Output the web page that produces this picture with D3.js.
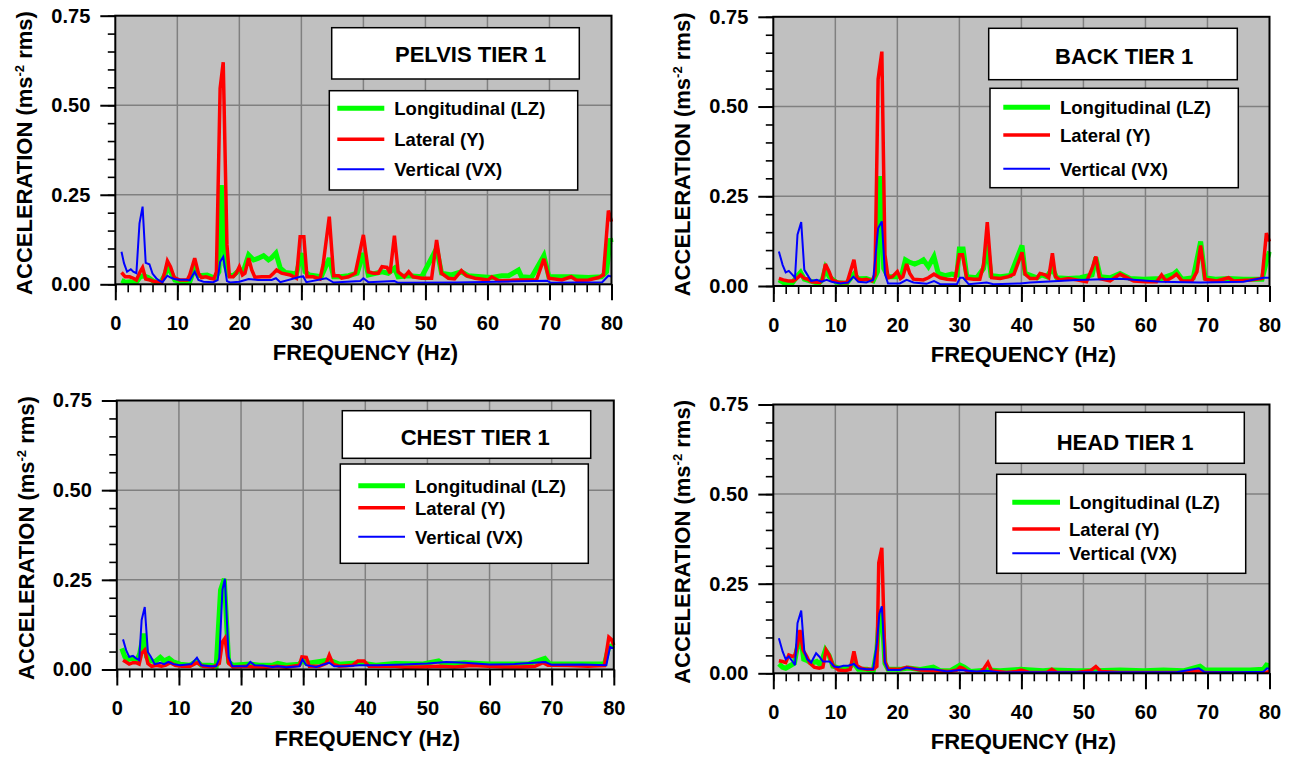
<!DOCTYPE html>
<html><head><meta charset="utf-8">
<script src="https://cdn.jsdelivr.net/npm/d3@7"></script>
<style>body{margin:0;background:#fff}svg{display:block}text{font-family:Arial,"Liberation Sans",sans-serif;font-weight:bold;fill:#000}</style>
</head><body><svg id="c" width="1292" height="757"></svg>
<script>
// ---------------- DATA ----------------
const seriesNames = ["Longitudinal (LZ)", "Lateral (Y)", "Vertical (VX)"];
const panelTitles = ["PELVIS TIER 1", "BACK TIER 1", "CHEST TIER 1", "HEAD TIER 1"];
const xTicks = [0, 10, 20, 30, 40, 50, 60, 70, 80];
const yTicks = [0, 0.25, 0.5, 0.75];

const pelvisLZ = [[1,0.011],[1.6,0.006],[2.4,0.007],[3.3,0.003],[4,0.021],[4.5,0.024],[5.3,0.019],[6.1,0.009],[7.2,0.003],[8,0.026],[8.4,0.049],[8.9,0.035],[9.6,0.012],[11,0.006],[12,0.007],[12.8,0.045],[13.4,0.024],[14.8,0.026],[16.1,0.017],[16.7,0.035],[17.1,0.277],[17.7,0.054],[18.2,0.026],[19,0.024],[20,0.04],[20.7,0.04],[21.5,0.082],[22.3,0.068],[23.1,0.073],[23.9,0.08],[24.7,0.068],[25.2,0.074],[25.9,0.087],[26.6,0.045],[27.4,0.033],[28.4,0.031],[29.2,0.028],[30,0.087],[30.6,0.035],[31.3,0.026],[33.2,0.021],[34.5,0.073],[35.2,0.021],[36.2,0.021],[37.6,0.024],[39,0.031],[40,0.087],[40.8,0.026],[43,0.035],[44,0.031],[45,0.045],[45.6,0.021],[47.3,0.024],[49.4,0.021],[51.8,0.1],[52.6,0.031],[54.2,0.026],[55.8,0.035],[56.9,0.024],[59,0.021],[60.7,0.019],[62.3,0.024],[63.4,0.024],[65,0.04],[65.5,0.021],[67.1,0.019],[69.1,0.08],[69.9,0.021],[72,0.021],[73.6,0.021],[76.3,0.019],[78.4,0.021],[79.2,0.035],[79.8,0.128],[80,0.117]];
const pelvisY = [[1,0.033],[1.6,0.021],[2.3,0.021],[2.9,0.017],[3.4,0.012],[4,0.035],[4.4,0.047],[4.9,0.015],[5.6,0.012],[6.4,0.007],[7.5,0.006],[8,0.035],[8.4,0.065],[8.9,0.049],[9.5,0.019],[10.4,0.012],[11.6,0.012],[12,0.026],[12.8,0.073],[13.4,0.031],[13.9,0.019],[14.6,0.021],[15.3,0.017],[15.9,0.015],[16.3,0.035],[16.9,0.547],[17.4,0.62],[18,0.11],[18.4,0.021],[19,0.021],[19.5,0.031],[20,0.049],[20.5,0.026],[20.9,0.031],[21.5,0.073],[22,0.04],[22.5,0.02],[23.6,0.021],[24.9,0.021],[25.5,0.031],[26,0.04],[26.8,0.031],[28.2,0.026],[29.2,0.017],[29.8,0.133],[30.4,0.133],[30.9,0.021],[31.9,0.021],[33,0.015],[33.5,0.054],[34.5,0.189],[35.2,0.024],[36,0.024],[36.5,0.017],[37.6,0.021],[38.7,0.031],[40,0.138],[40.8,0.035],[41.6,0.031],[42.4,0.031],[43,0.049],[43.8,0.047],[44.3,0.031],[45,0.136],[45.6,0.035],[46.6,0.021],[47.3,0.035],[48,0.021],[49.4,0.017],[51,0.017],[51.8,0.124],[52.6,0.031],[53.7,0.017],[54.7,0.015],[55.8,0.038],[56.6,0.024],[58,0.017],[60.1,0.012],[60.7,0.021],[61.8,0.01],[63.9,0.011],[65,0.012],[67.1,0.012],[67.9,0.012],[69.1,0.071],[69.9,0.017],[72,0.012],[73.5,0.021],[74.4,0.011],[76.3,0.012],[77.9,0.019],[78.7,0.026],[79.5,0.206],[80,0.175]];
const pelvisVX = [[1,0.091],[1.4,0.059],[1.9,0.035],[2.5,0.042],[2.9,0.035],[3.4,0.031],[3.9,0.17],[4.4,0.217],[4.9,0.06],[5.5,0.056],[6,0.03],[6.6,0.017],[7.1,0.01],[7.6,0.006],[8,0.015],[8.4,0.024],[8.9,0.019],[9.5,0.015],[10.4,0.013],[11.5,0.013],[12,0.011],[12.8,0.035],[13.4,0.012],[14.2,0.007],[15.8,0.006],[16.5,0.012],[16.9,0.063],[17.4,0.077],[18,0.009],[18.5,0.005],[20,0.007],[21.5,0.015],[23,0.012],[25.2,0.012],[25.9,0.017],[26.6,0.006],[29.8,0.021],[30.3,0.022],[30.8,0.006],[34,0.017],[35.2,0.005],[39.5,0.009],[40,0.017],[40.8,0.006],[45,0.009],[45.6,0.004],[55,0.005],[69.6,0.01],[70.2,0.004],[78.5,0.006],[79.5,0.024],[80,0.022]];

const backLZ = [[0.9,0.017],[1.9,0.007],[3,0.007],[3.8,0.026],[4.4,0.038],[5,0.019],[5.9,0.014],[7.3,0.007],[7.9,0.017],[8.4,0.049],[9,0.026],[10.2,0.01],[11.8,0.007],[13,0.033],[13.7,0.02],[15,0.021],[16.1,0.014],[16.8,0.04],[17.3,0.306],[17.8,0.049],[18.5,0.026],[19.9,0.026],[20.7,0.031],[21.3,0.073],[22,0.066],[22.8,0.061],[23.5,0.066],[24.2,0.073],[25,0.054],[25.9,0.082],[26.6,0.035],[27.7,0.029],[28.8,0.033],[29.6,0.031],[30,0.103],[30.6,0.103],[31.2,0.026],[32.8,0.023],[33.9,0.049],[34.5,0.115],[35.1,0.029],[36.6,0.026],[38.2,0.029],[40.1,0.113],[40.6,0.035],[42.5,0.023],[43.3,0.031],[44.1,0.026],[45,0.049],[45.7,0.023],[47.6,0.021],[49.5,0.023],[51.4,0.031],[52,0.079],[52.7,0.026],[54.3,0.023],[55.9,0.035],[57.5,0.021],[59.7,0.019],[62.6,0.021],[64.5,0.033],[65,0.04],[65.9,0.019],[67.7,0.023],[68.9,0.124],[69.6,0.023],[71.3,0.019],[73.4,0.021],[75.8,0.019],[78.8,0.019],[79.5,0.068],[80,0.096]];
const backY = [[0.9,0.021],[1.6,0.017],[2.4,0.014],[3.2,0.014],[3.8,0.021],[4.4,0.031],[5,0.021],[5.6,0.019],[6.2,0.012],[7.5,0.01],[7.9,0.017],[8.4,0.061],[9,0.04],[9.5,0.017],[10.5,0.01],[11.9,0.01],[13,0.073],[13.5,0.021],[14.2,0.017],[15,0.019],[15.9,0.014],[16.4,0.031],[16.9,0.576],[17.5,0.653],[18,0.087],[18.5,0.023],[19.2,0.026],[20,0.04],[20.5,0.021],[20.9,0.026],[21.5,0.061],[22,0.035],[22.6,0.019],[24.2,0.017],[25,0.023],[25.9,0.033],[26.9,0.023],[28,0.019],[29.3,0.017],[30,0.087],[30.5,0.087],[31.2,0.021],[32.3,0.019],[33.3,0.019],[33.9,0.059],[34.5,0.178],[35.2,0.023],[36.6,0.021],[37.9,0.026],[38.8,0.033],[40.1,0.094],[40.6,0.033],[41.4,0.021],[42.5,0.021],[43,0.035],[43.8,0.031],[44.4,0.023],[45,0.091],[45.5,0.026],[46.2,0.017],[47.6,0.021],[48.9,0.017],[50.5,0.012],[51.4,0.049],[52,0.082],[52.6,0.021],[54.3,0.014],[55.9,0.033],[56.7,0.026],[58.1,0.014],[60.2,0.012],[61.8,0.012],[62.6,0.031],[63.3,0.014],[64.5,0.026],[65,0.033],[65.9,0.014],[67.5,0.014],[68.3,0.04],[68.9,0.113],[69.6,0.019],[71.5,0.014],[73.4,0.023],[74.2,0.014],[76.9,0.017],[78.8,0.021],[79.5,0.147],[80,0.124]];
const backVX = [[0.9,0.096],[1.5,0.059],[2,0.038],[2.5,0.042],[3.1,0.031],[3.5,0.023],[3.9,0.143],[4.5,0.178],[5,0.045],[5.5,0.031],[6.1,0.014],[7,0.017],[7.8,0.012],[8.6,0.017],[9.4,0.012],[10.8,0.007],[12.1,0.01],[12.9,0.026],[13.7,0.012],[15,0.01],[16.1,0.017],[16.9,0.161],[17.5,0.18],[18,0.033],[18.5,0.007],[20.4,0.007],[21.5,0.017],[22.6,0.01],[24.7,0.006],[25.9,0.014],[26.9,0.005],[29.6,0.005],[30.1,0.023],[30.6,0.023],[31.5,0.005],[34.4,0.01],[35.5,0.005],[39.8,0.007],[41.4,0.01],[48.9,0.017],[55.9,0.02],[62.4,0.012],[68.8,0.01],[75.8,0.012],[79,0.023],[80,0.023]];

const chestLZ = [[0.8,0.059],[1.3,0.035],[1.9,0.028],[2.4,0.032],[3.2,0.024],[3.7,0.045],[4.3,0.1],[4.8,0.035],[5.3,0.026],[6.1,0.021],[7,0.034],[7.6,0.024],[8.4,0.031],[9.1,0.021],[10.2,0.015],[11.8,0.012],[12.9,0.024],[13.6,0.012],[15,0.012],[16,0.009],[16.7,0.222],[17.3,0.253],[18,0.021],[18.7,0.012],[21.4,0.015],[23,0.012],[25.1,0.012],[25.9,0.017],[27.3,0.012],[29.4,0.015],[29.9,0.026],[30.5,0.017],[34.2,0.026],[35.8,0.015],[39,0.019],[41.7,0.012],[44.8,0.017],[49.1,0.015],[51.8,0.024],[52.6,0.015],[56,0.019],[59.8,0.015],[63,0.015],[66.2,0.015],[68.9,0.031],[69.7,0.015],[73.2,0.015],[75.8,0.015],[78.5,0.015],[79.2,0.063],[80,0.068]];
const chestY = [[1,0.026],[1.5,0.021],[2,0.015],[2.6,0.019],[3.1,0.019],[3.6,0.015],[4,0.045],[4.5,0.054],[5,0.017],[5.6,0.009],[6.4,0.012],[7.2,0.009],[7.9,0.012],[8.6,0.019],[9.4,0.012],[10.4,0.009],[11.8,0.009],[12.9,0.019],[13.9,0.009],[15.5,0.007],[16.5,0.017],[17,0.077],[17.4,0.087],[18,0.017],[18.7,0.007],[20.9,0.009],[21.9,0.007],[24.1,0.006],[25.7,0.009],[27.3,0.006],[29.4,0.012],[29.8,0.035],[30.5,0.034],[31,0.009],[32.6,0.009],[33.7,0.017],[34.2,0.04],[34.8,0.015],[35.8,0.009],[38,0.012],[38.8,0.024],[39.8,0.024],[40.6,0.009],[42.7,0.009],[44.8,0.009],[46.4,0.006],[49.1,0.007],[51.8,0.009],[54.4,0.007],[57.1,0.011],[59.8,0.009],[62.5,0.007],[65.1,0.007],[67.3,0.009],[68.6,0.019],[69.4,0.012],[72.6,0.011],[75.8,0.009],[78.5,0.011],[79.2,0.09],[79.6,0.084],[80,0.068]];
const chestVX = [[1,0.084],[1.5,0.054],[2,0.035],[2.6,0.038],[3.1,0.031],[3.6,0.026],[4,0.138],[4.5,0.174],[5,0.049],[5.5,0.035],[6.1,0.015],[7,0.019],[7.6,0.015],[8.3,0.021],[9.1,0.015],[10.2,0.012],[12,0.015],[12.9,0.033],[13.6,0.012],[15,0.009],[16,0.009],[16.5,0.031],[17,0.222],[17.4,0.253],[18,0.035],[18.6,0.009],[19.8,0.009],[20.9,0.009],[21.5,0.021],[22.2,0.012],[23.5,0.011],[25.1,0.007],[25.9,0.009],[27.3,0.006],[29.4,0.009],[29.9,0.028],[30.5,0.012],[32.1,0.007],[34.2,0.019],[35,0.009],[36.9,0.009],[39,0.012],[42,0.012],[46,0.014],[50,0.017],[53,0.021],[56,0.019],[60,0.014],[64,0.015],[69,0.021],[70,0.013],[75,0.014],[78.8,0.012],[79.4,0.063],[80,0.059]];

const headLZ = [[0.9,0.026],[1.5,0.017],[2,0.014],[2.7,0.021],[3.4,0.028],[3.9,0.075],[4.4,0.103],[4.9,0.039],[5.5,0.035],[6.2,0.028],[7,0.033],[7.6,0.023],[8.4,0.065],[9,0.049],[9.6,0.02],[10.8,0.014],[12.1,0.014],[13,0.028],[13.7,0.011],[15.1,0.011],[16.1,0.005],[16.7,0.065],[17.1,0.166],[17.5,0.177],[18,0.028],[18.5,0.011],[20.4,0.011],[21.8,0.015],[23.7,0.011],[25.8,0.017],[26.9,0.007],[28.5,0.007],[30.1,0.023],[30.8,0.017],[31.8,0.005],[34.6,0.009],[36.6,0.007],[39.8,0.011],[43.5,0.007],[44.9,0.009],[48.9,0.007],[52.1,0.007],[55.9,0.009],[59.7,0.007],[62.9,0.009],[66.1,0.007],[68.8,0.02],[69.6,0.009],[73.1,0.009],[76.9,0.009],[79,0.011],[79.5,0.023],[80,0.021]];
const headY = [[0.9,0.035],[1.5,0.033],[2,0.03],[2.5,0.051],[3.1,0.047],[3.5,0.051],[3.9,0.079],[4.3,0.121],[4.8,0.065],[5.4,0.047],[5.9,0.028],[6.6,0.017],[7.4,0.014],[8,0.017],[8.5,0.065],[9,0.051],[9.6,0.023],[10.5,0.009],[11.6,0.007],[12.4,0.011],[13,0.061],[13.5,0.021],[14.2,0.014],[15.1,0.011],[16.1,0.011],[16.7,0.019],[17,0.308],[17.5,0.35],[18,0.033],[18.5,0.011],[20.4,0.011],[21.5,0.017],[23.7,0.009],[25.8,0.007],[28.5,0.005],[29.6,0.009],[30.1,0.017],[30.6,0.014],[31.5,0.003],[33.3,0.003],[34,0.014],[34.6,0.03],[35.2,0.007],[37.6,0.002],[39.2,0.005],[40,0.009],[41.4,0.002],[44.1,0.002],[44.9,0.011],[45.7,0.002],[48.9,0.002],[51.1,0.007],[52,0.019],[52.8,0.005],[55.9,0.002],[59.7,0.002],[62.9,0.002],[66.1,0.002],[68.8,0.007],[69.6,0.002],[73.1,0.001],[76.9,0.001],[79.3,0.002],[80,0.005]];
const headVX = [[0.9,0.098],[1.5,0.061],[2,0.039],[2.5,0.047],[3.1,0.033],[3.5,0.023],[3.9,0.14],[4.5,0.175],[5,0.061],[5.5,0.039],[6.1,0.03],[6.9,0.056],[7.4,0.047],[8,0.033],[8.5,0.033],[9.1,0.033],[9.8,0.019],[10.5,0.017],[11.3,0.021],[12.1,0.021],[13,0.026],[13.7,0.014],[15.1,0.011],[16.1,0.011],[16.7,0.084],[17.1,0.166],[17.5,0.187],[18,0.03],[18.5,0.009],[20.4,0.009],[21.5,0.016],[23.1,0.011],[25.8,0.011],[28,0.005],[30.1,0.009],[32.8,0.005],[34.4,0.007],[36.6,0.002],[39.8,0.003],[45,0.003],[55,0.003],[65,0.003],[68.6,0.014],[69.6,0.003],[75,0.003],[79,0.004],[79.6,0.014],[80,0.012]];

// ---------------- LAYOUT / STYLE ----------------
const seriesStyle = [{color:"#00ff00", w:5}, {color:"#ff0000", w:3.5}, {color:"#0000ff", w:2}];
const panels = [
  {title:panelTitles[0], data:[pelvisLZ,pelvisY,pelvisVX], L:115.3, T:15.7, R:611.5, B:284.3,
   tBox:[331.7,27.7,579.3,79], tX:395, tY:61.7,
   lBox:[329.3,90.7,577.7,190], lY:[108.3,139.3,169.3], lX0:337.3, lX1:384.3, lTx:394.3},
  {title:panelTitles[1], data:[backLZ,backY,backVX], L:773.3, T:16.8, R:1269.5, B:286,
   tBox:[988.7,28.3,1237.3,79.7], tX:1055, tY:64,
   lBox:[990,88.3,1238.3,187.7], lY:[107.3,135,168.7], lX0:1003.3, lX1:1050, lTx:1060},
  {title:panelTitles[2], data:[chestLZ,chestY,chestVX], L:116.8, T:400.5, R:613.8, B:669.5,
   tBox:[342.3,410.7,590.7,458.3], tX:400.7, tY:445,
   lBox:[340.3,464,588.3,563.3], lY:[485.7,507.7,536.7], lX0:358.3, lX1:405, lTx:415},
  {title:panelTitles[3], data:[headLZ,headY,headVX], L:773.3, T:404.5, R:1269.5, B:673.3,
   tBox:[995.7,412.3,1244.3,463.3], tX:1056.7, tY:450,
   lBox:[996.7,474.3,1245.7,573.3], lY:[502.3,529,553.3], lX0:1012.3, lX1:1060, lTx:1069}
];

const svg = d3.select("#c");

panels.forEach((p, pi) => {
  const x = d3.scaleLinear().domain([0, 80]).range([p.L, p.R]);
  const y = d3.scaleLinear().domain([0, 0.75]).range([p.B, p.T]);
  const g = svg.append("g");

  // background
  g.append("rect").attr("x", p.L).attr("y", p.T).attr("width", p.R - p.L).attr("height", p.B - p.T).attr("fill", "#c0c0c0");

  // grid
  g.selectAll(".gx").data(xTicks.filter(t => t > 0 && t < 80)).join("line")
    .attr("x1", d => x(d)).attr("x2", d => x(d)).attr("y1", p.T).attr("y2", p.B)
    .attr("stroke", "#808080").attr("stroke-width", 1.5);
  g.selectAll(".gy").data(yTicks.filter(t => t > 0 && t < 0.75)).join("line")
    .attr("y1", d => y(d)).attr("y2", d => y(d)).attr("x1", p.L).attr("x2", p.R)
    .attr("stroke", "#808080").attr("stroke-width", 1.5);

  // clip
  const cid = "clip" + pi;
  svg.append("clipPath").attr("id", cid).append("rect")
    .attr("x", p.L).attr("y", p.T - 2).attr("width", p.R - p.L + 2).attr("height", p.B - p.T + 2);

  const line = d3.line().x(d => x(d[0])).y(d => y(d[1]));
  const lg = g.append("g").attr("clip-path", `url(#${cid})`);
  p.data.forEach((s, si) => {
    lg.append("path").datum(s).attr("d", line).attr("fill", "none")
      .attr("stroke", seriesStyle[si].color).attr("stroke-width", seriesStyle[si].w)
      .attr("stroke-linejoin", "miter").attr("stroke-miterlimit", 3);
  });

  // frame
  g.append("rect").attr("x", p.L).attr("y", p.T).attr("width", p.R - p.L).attr("height", p.B - p.T)
    .attr("fill", "none").attr("stroke", "#000").attr("stroke-width", 2);

  // x axis minor + major
  const xMinor = d3.range(0, 81, 2);
  g.append("g").attr("transform", `translate(0,${p.B})`)
    .call(d3.axisBottom(x).tickValues(xMinor).tickSize(8).tickFormat(""))
    .call(a => { a.select(".domain").remove(); a.selectAll("line").attr("stroke-width", 1.6); });
  const xa = g.append("g").attr("transform", `translate(0,${p.B})`)
    .call(d3.axisBottom(x).tickValues(xTicks).tickSize(16).tickPadding(15.5).tickFormat(d3.format("d")));
  xa.select(".domain").remove();
  xa.selectAll("line").attr("stroke-width", 2);
  xa.selectAll("text").style("font-size", "20px").style("font-family", "Arial, 'Liberation Sans', sans-serif").style("font-weight", "bold").attr("fill", "#000");

  // y axis minor + major
  const yMinor = d3.range(0, 0.751, 0.05);
  g.append("g").attr("transform", `translate(${p.L},0)`)
    .call(d3.axisLeft(y).tickValues(yMinor).tickSize(7.5).tickFormat(""))
    .call(a => { a.select(".domain").remove(); a.selectAll("line").attr("stroke-width", 1.6); });
  const ya = g.append("g").attr("transform", `translate(${p.L},0)`)
    .call(d3.axisLeft(y).tickValues(yTicks).tickSize(15).tickPadding(10).tickFormat(d3.format(".2f")));
  ya.select(".domain").remove();
  ya.selectAll("line").attr("stroke-width", 2);
  ya.selectAll("text").style("font-size", "20px").style("font-family", "Arial, 'Liberation Sans', sans-serif").style("font-weight", "bold").attr("fill", "#000");

  // x label
  g.append("text").attr("x", (p.L + p.R) / 2 + 2).attr("y", p.B + 76).attr("text-anchor", "middle")
    .style("font-size", "22px").text("FREQUENCY (Hz)");

  // y label
  const yl = g.append("text").attr("transform", `translate(${p.L - 83},${(p.T + p.B) / 2 + 3}) rotate(-90)`)
    .attr("text-anchor", "middle").style("font-size", "22px");
  yl.append("tspan").text("ACCELERATION (ms");
  yl.append("tspan").attr("dy", -8).style("font-size", "13px").text("-2");
  yl.append("tspan").attr("dy", 8).text(" rms)");

  // title box
  g.append("rect").attr("x", p.tBox[0]).attr("y", p.tBox[1]).attr("width", p.tBox[2] - p.tBox[0]).attr("height", p.tBox[3] - p.tBox[1])
    .attr("fill", "#fff").attr("stroke", "#000").attr("stroke-width", 1.5);
  g.append("text").attr("x", p.tX).attr("y", p.tY).style("font-size", "22px").text(p.title);

  // legend box
  g.append("rect").attr("x", p.lBox[0]).attr("y", p.lBox[1]).attr("width", p.lBox[2] - p.lBox[0]).attr("height", p.lBox[3] - p.lBox[1])
    .attr("fill", "#fff").attr("stroke", "#000").attr("stroke-width", 1.5);
  seriesNames.forEach((n, si) => {
    g.append("line").attr("x1", p.lX0).attr("x2", p.lX1).attr("y1", p.lY[si]).attr("y2", p.lY[si])
      .attr("stroke", seriesStyle[si].color).attr("stroke-width", seriesStyle[si].w);
    g.append("text").attr("x", p.lTx).attr("y", p.lY[si] + 6.8).style("font-size", "18.5px").text(n);
  });
});
</script></body></html>
